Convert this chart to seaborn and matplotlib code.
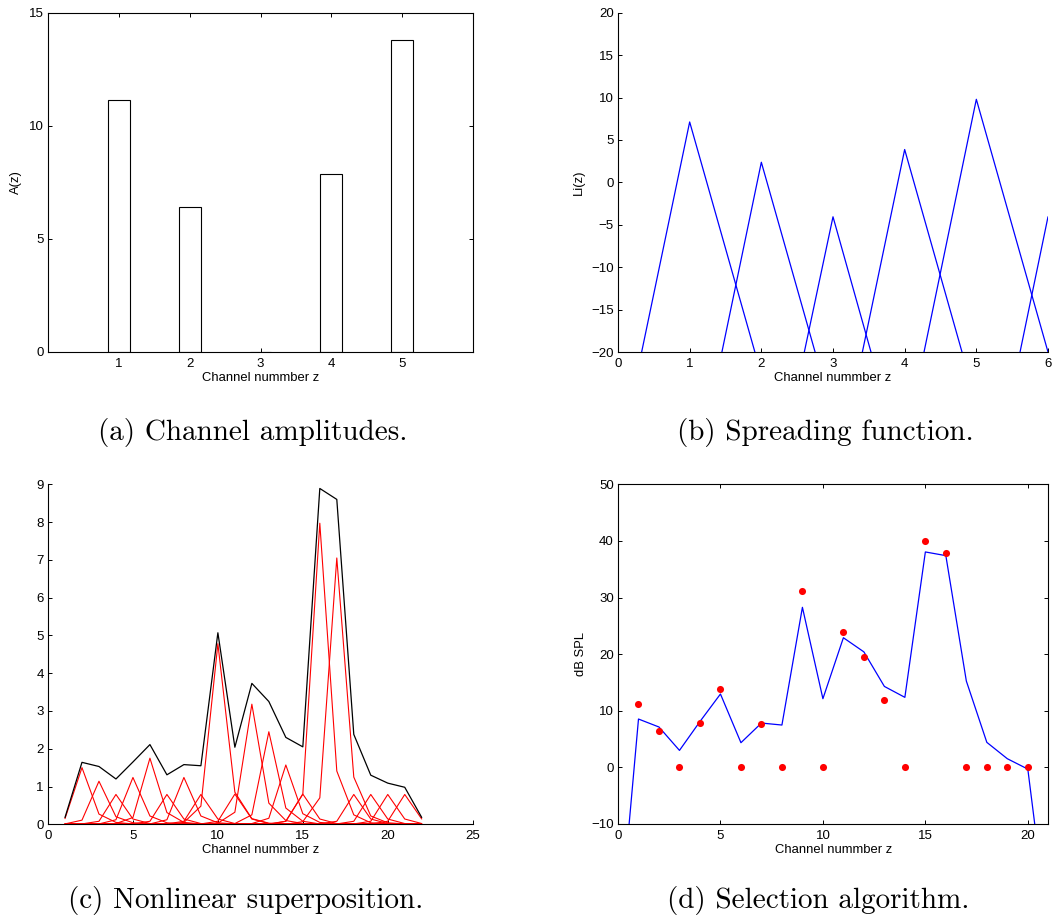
import matplotlib
matplotlib.use("Agg")
import matplotlib.pyplot as plt
import numpy as np
import pandas as pd
import seaborn as sns

# ---- (a) channel amplitudes -------------------------------------------
channels_a = [1, 2, 3, 4, 5]
amplitudes = [11.15, 6.40, 0.0, 7.88, 13.80]

# ---- (b) spreading function: left foot, peak, right foot per channel ---
spread_peak_z = [1, 2, 3, 4, 5, 6]
spread_peak_level = [7.12, 2.37, -4.06, 3.87, 9.79, -4.06]
spread_left_foot = [0.33, 1.45, 2.60, 3.41, 4.27, 5.61]
spread_right_foot = [1.91, 2.75, 3.53, 4.80, 6.00, 6.53]
spread_floor = -20.0

# ---- (c) nonlinear superposition ---------------------------------------
channels_c = list(range(1, 23))
superposition_total = [0.18, 1.64, 1.53, 1.20, 1.65, 2.11, 1.31, 1.58, 1.55, 5.07, 2.04,
                       3.73, 3.25, 2.30, 2.05, 8.89, 8.60, 2.38, 1.30, 1.09, 0.98, 0.18]
# individual masker contributions: first channel with a non-zero value, then the values
masker_channel = [2, 3, 4, 5, 6, 7, 8, 9, 10, 11, 12, 13, 14, 15, 16, 17, 18, 19, 20, 21]
masker_first = [1, 1, 2, 3, 4, 5, 6, 7, 8, 9, 10, 11, 12, 13, 14, 15, 16, 17, 18, 19]
masker_values = [
    [0.15, 1.50, 0.27, 0.05, 0.01],
    [0.01, 0.11, 1.14, 0.20, 0.04, 0.01],
    [0.01, 0.08, 0.79, 0.14, 0.02],
    [0.01, 0.12, 1.24, 0.22, 0.04, 0.01],
    [0.02, 0.18, 1.75, 0.31, 0.05, 0.01],
    [0.01, 0.08, 0.79, 0.14, 0.02],
    [0.01, 0.12, 1.24, 0.22, 0.04, 0.01],
    [0.01, 0.08, 0.79, 0.14, 0.02],
    [0.05, 0.48, 4.78, 0.85, 0.15, 0.03, 0.01],
    [0.01, 0.08, 0.80, 0.14, 0.02],
    [0.03, 0.32, 3.18, 0.56, 0.10, 0.02],
    [0.02, 0.25, 2.45, 0.43, 0.08, 0.01],
    [0.02, 0.16, 1.57, 0.28, 0.05, 0.01],
    [0.01, 0.08, 0.80, 0.14, 0.02],
    [0.08, 0.80, 7.97, 1.41, 0.25, 0.04, 0.01],
    [0.07, 0.70, 7.05, 1.25, 0.22, 0.04, 0.01],
    [0.01, 0.08, 0.79, 0.14, 0.02],
    [0.01, 0.08, 0.79, 0.14, 0.02],
    [0.01, 0.08, 0.79, 0.14, 0.02],
    [0.01, 0.08, 0.79, 0.14],
]

# ---- (d) selection algorithm -------------------------------------------
channels_d = list(range(0, 22))
threshold_db = [-32.0, 8.54, 7.13, 3.00, 8.10, 12.96, 4.36, 7.83, 7.48, 28.27, 12.13,
                22.90, 20.40, 14.30, 12.37, 38.05, 37.40, 15.25, 4.42, 1.53, -0.30, -29.0]
selected_z = list(range(1, 21))
selected_db = [11.13, 6.36, 0.0, 7.90, 13.78, 0.0, 7.66, 0.0, 31.15, 0.0,
               24.00, 19.50, 11.90, 0.0, 40.05, 37.90, 0.0, 0.0, 0.0, 0.0]

captions = ["(a) Channel amplitudes.", "(b) Spreading function.",
            "(c) Nonlinear superposition.", "(d) Selection algorithm."]
xlabel_text = "Channel nummber z"

# ---------------------------------------------------------------------------
sns.set_theme(style="white")
plt.rcParams["font.family"] = ["Liberation Sans", "DejaVu Sans"]
plt.rcParams.update({
    "axes.edgecolor": "black",
    "axes.linewidth": 0.8,
    "xtick.color": "black",
    "ytick.color": "black",
    "xtick.direction": "in",
    "ytick.direction": "in",
    "xtick.major.size": 3.0,
    "ytick.major.size": 3.0,
    "xtick.major.width": 0.7,
    "ytick.major.width": 0.7,
    "xtick.major.pad": 4.0,
    "ytick.major.pad": 3.0,
    "xtick.labelsize": 9.5,
    "ytick.labelsize": 9.5,
    "axes.labelsize": 9.4,
    "text.color": "black",
    "axes.labelcolor": "black",
})

W, H = 1053, 921
fig = plt.figure(figsize=(W / 100, H / 100), dpi=100)
fig.patch.set_facecolor("white")


def px_axes(left, top, right, bottom):
    return fig.add_axes([left / W, 1 - bottom / H, (right - left) / W, (bottom - top) / H])


ax_a = px_axes(48, 12.7, 473, 352)
ax_b = px_axes(618, 12.7, 1048, 352)
ax_c = px_axes(48, 484.3, 472.7, 824.3)
ax_d = px_axes(618, 484.3, 1048.3, 824)


def boxed(ax):
    for s in ax.spines.values():
        s.set_visible(True)
        s.set_color("black")
    ax.tick_params(top=True, right=True, bottom=True, left=True,
                   labeltop=False, labelright=False)


def open_axes(ax):
    ax.spines["top"].set_visible(False)
    ax.spines["right"].set_visible(False)
    ax.tick_params(bottom=True, left=True, top=False, right=False)


# (a) bars
sns.barplot(x=channels_a, y=amplitudes, native_scale=True, width=0.31,
            color="white", saturation=1, edgecolor="black", linewidth=0.8,
            errorbar=None, ax=ax_a)
ax_a.set_xlim(0, 6)
ax_a.set_ylim(0, 15)
ax_a.set_xticks([1, 2, 3, 4, 5])
ax_a.set_xticklabels(["1", "2", "3", "4", "5"])
ax_a.set_yticks([0, 5, 10, 15])
ax_a.set_xlabel(xlabel_text)
ax_a.set_ylabel("A(z)")
boxed(ax_a)

# (b) triangular spreading functions
rows = []
for i, zc in enumerate(spread_peak_z):
    rows.append((zc, 0, spread_left_foot[i], spread_floor))
    rows.append((zc, 1, zc, spread_peak_level[i]))
    rows.append((zc, 2, spread_right_foot[i], spread_floor))
df_b = pd.DataFrame(rows, columns=["masker", "order", "z", "L"])
sns.lineplot(data=df_b, x="z", y="L", units="masker", estimator=None, sort=False,
             color="blue", linewidth=0.9, ax=ax_b)
ax_b.set_xlim(0, 6)
ax_b.set_ylim(-20, 20)
ax_b.set_xticks(range(0, 7))
ax_b.set_yticks(range(-20, 21, 5))
ax_b.set_xlabel(xlabel_text)
ax_b.set_ylabel("Li(z)")
open_axes(ax_b)

# (c) individual contributions (red) and their superposition (black)
rows = []
for ch, first, vals in zip(masker_channel, masker_first, masker_values):
    full = {z: 0.0 for z in channels_c}
    for k, v in enumerate(vals):
        full[first + k] = v
    for z in channels_c:
        rows.append((ch, z, full[z]))
df_c = pd.DataFrame(rows, columns=["masker", "z", "value"])
sns.lineplot(data=df_c, x="z", y="value", units="masker", estimator=None,
             color="red", linewidth=0.8, ax=ax_c)
sns.lineplot(x=channels_c, y=superposition_total, color="black", linewidth=0.9,
             estimator=None, ax=ax_c)
ax_c.set_xlim(0, 25)
ax_c.set_ylim(0, 9)
ax_c.set_xticks(range(0, 26, 5))
ax_c.set_yticks(range(0, 10))
ax_c.set_xlabel(xlabel_text)
ax_c.set_ylabel("")
open_axes(ax_c)

# (d) masking threshold (blue) and selected channels (red dots)
sns.lineplot(x=channels_d, y=threshold_db, color="blue", linewidth=0.9,
             estimator=None, ax=ax_d)
sns.scatterplot(x=selected_z, y=selected_db, color="red", s=26, linewidth=0,
                ax=ax_d, zorder=3)
ax_d.set_xlim(0, 21)
ax_d.set_ylim(-10, 50)
ax_d.set_xticks(range(0, 21, 5))
ax_d.set_yticks(range(-10, 51, 10))
ax_d.set_xlabel(xlabel_text)
ax_d.set_ylabel("dB SPL")
boxed(ax_d)

# axis-label placement
ax_a.xaxis.set_label_coords(0.5, -0.060)
ax_b.xaxis.set_label_coords(0.5, -0.060)
ax_c.xaxis.set_label_coords(0.5, -0.059)
ax_d.xaxis.set_label_coords(0.5, -0.059)
ax_a.yaxis.set_label_coords(-0.061, 0.5)
ax_b.yaxis.set_label_coords(-0.077, 0.5)
ax_d.yaxis.set_label_coords(-0.072, 0.5)

for ax in (ax_a, ax_b, ax_c, ax_d):
    ax.set_facecolor("white")
    ax.grid(False)
    legend = ax.get_legend()
    if legend is not None:
        legend.remove()

# sub-figure captions
caption_pos = [(253, 440), (825, 440), (246, 908), (818, 908)]
for text, (cx, cy) in zip(captions, caption_pos):
    fig.text(cx / W, 1 - cy / H, text, ha="center", va="baseline",
             family=["cmr10", "DejaVu Serif"], fontsize=21)

fig.savefig("out.png", dpi=100, facecolor="white")
